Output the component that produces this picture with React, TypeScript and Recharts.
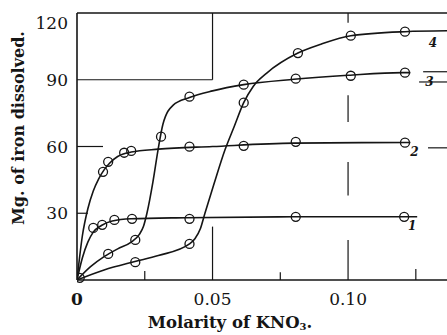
import React from 'react';
import { ComposedChart, Line, Scatter, XAxis, YAxis, ReferenceLine } from 'recharts';

// ---- data ----
const xTicks = [0, 0.05, 0.1];
const xTickLabels = ['0', '0.05', '0.10'];
const yTicks = [30, 60, 90, 120];

// smooth curves
const curve1X = [0, 0.002, 0.004, 0.006, 0.009, 0.013, 0.02, 0.04, 0.08, 0.1255];
const curve1Y = [0, 10, 17, 21.5, 24.5, 26.5, 27.5, 28, 28.4, 28.4];
const curve2X = [0, 0.002, 0.004, 0.006, 0.008, 0.01, 0.012, 0.015, 0.02, 0.03, 0.05, 0.08, 0.123];
const curve2Y = [0, 20, 32, 40, 45.5, 49.5, 52.5, 55.5, 57.5, 58.8, 60, 61.5, 61.8];
const curve3X = [0, 0.005, 0.01, 0.015, 0.02, 0.023, 0.0245, 0.0258, 0.028, 0.0299, 0.0317, 0.0354, 0.0415, 0.05, 0.0615, 0.08, 0.1, 0.12, 0.123];
const curve3Y = [0, 6, 10.5, 14, 17, 20.5, 24, 30, 44, 58.5, 70, 78.5, 82, 85, 87.8, 90.2, 92, 93.2, 93.2];
const curve4X = [0, 0.01, 0.021, 0.03, 0.0415, 0.0435, 0.0455, 0.0472, 0.0505, 0.0546, 0.058, 0.0615, 0.065, 0.07, 0.0815, 0.09, 0.101, 0.121, 0.1365];
const curve4Y = [0, 4.5, 8.2, 11, 16.2, 18.5, 23, 30, 43, 58.5, 69, 79.7, 87, 93, 102, 106, 109.8, 111.6, 112];

// measured points (open circles)
const pts1X = [0.001, 0.006, 0.0093, 0.0138, 0.0203, 0.0415, 0.0807, 0.1207];
const pts1Y = [1, 23.4, 24.8, 27, 27.5, 27.5, 28.4, 28.4];
const pts2X = [0.0096, 0.0115, 0.0174, 0.02, 0.0415, 0.0615, 0.0807, 0.121];
const pts2Y = [48.6, 53.1, 57.2, 58, 59.9, 60.3, 62.1, 61.7];
const pts3X = [0.0115, 0.0215, 0.031, 0.0415, 0.0615, 0.0807, 0.101, 0.121];
const pts3Y = [11.7, 18, 64.4, 82.4, 87.8, 90.5, 91.8, 93.2];
const pts4X = [0.0215, 0.0415, 0.0615, 0.0815, 0.101, 0.121];
const pts4Y = [8, 16.2, 79.7, 102, 109.8, 111.6];

const zip = (xs: number[], ys: number[]) => xs.map((x, i) => ({ x, y: ys[i] }));

const curves = [
  { name: '1', data: zip(curve1X, curve1Y), dx: -5, dy: 13 },
  { name: '2', data: zip(curve2X, curve2Y), dx: 4, dy: 14 },
  { name: '3', data: zip(curve3X, curve3Y), dx: 19, dy: 13 },
  { name: '4', data: zip(curve4X, curve4Y), dx: -14, dy: 16 },
];
const points = [zip(pts1X, pts1Y), zip(pts2X, pts2Y), zip(pts3X, pts3Y), zip(pts4X, pts4Y)];

const INK = '#151515';
const SERIF = '"DejaVu Serif", "Liberation Serif", serif';

const XTick = (props: any) => {
  const { x, y, payload } = props;
  const i = xTicks.indexOf(payload.value);
  const label = i >= 0 ? xTickLabels[i] : '';
  return (
    <text x={x} y={y + 25} textAnchor="middle" fontFamily={SERIF} fontSize={17}
      fontWeight={payload.value === 0 ? 'bold' : 'normal'} fill={INK}>{label}</text>
  );
};

const YTick = (props: any) => {
  const { x, y, payload } = props;
  return (
    <text x={x - 9} y={y + 6 + (payload.value === 120 ? 10 : 0)} textAnchor="end"
      fontFamily={SERIF} fontSize={17} fill={INK}>{payload.value}</text>
  );
};

const circleShape = (props: any) => (
  <circle cx={props.cx} cy={props.cy} r={4.5} fill="none" stroke={INK} strokeWidth={1.3} />
);

const seg = (x1: number, y1: number, x2: number, y2: number, w = 1.2) => (
  <ReferenceLine key={`${x1}-${y1}-${x2}-${y2}`} segment={[{ x: x1, y: y1 }, { x: x2, y: y2 }]}
    stroke={INK} strokeWidth={w} ifOverflow="visible" />
);

export default function App() {
  return (
    <div style={{ position: 'absolute', left: 0, top: 0, width: 447, height: 335, background: '#fff' }}>
      <ComposedChart width={447} height={335} margin={{ top: 13, right: 0, bottom: 0, left: 0 }}>
        <XAxis type="number" dataKey="x" domain={[0, 0.1365]} ticks={xTicks} tick={<XTick />}
          tickLine={false} tickSize={0} tickMargin={0} height={55} interval={0}
          axisLine={{ stroke: INK, strokeWidth: 1.6 }} allowDataOverflow />
        <YAxis type="number" dataKey="y" domain={[0, 120]} ticks={yTicks} tick={<YTick />}
          tickLine={false} tickSize={0} tickMargin={0} width={77} interval={0}
          axisLine={{ stroke: INK, strokeWidth: 1.6 }} />
        <ReferenceLine y={120} stroke={INK} strokeWidth={1.5} />
        {seg(0, 90, 0.05, 90)}
        {seg(0.05, 90, 0.05, 120)}
        {seg(0.05, 0, 0.05, 24)}
        {seg(0.1, 0, 0.1, 18)}
        {seg(0.1, 38, 0.1, 53)}
        {seg(0.1, 71, 0.1, 83)}
        {seg(0.1, 115.6, 0.1, 120)}
        {seg(0, 60, 0.0096, 60)}
        {seg(0, 30, 0.004, 30)}
        {seg(0.025, 0, 0.025, 4)}
        {seg(0.075, 0, 0.075, 3.5)}
        {seg(0.125, 0, 0.125, 5)}
        {seg(0.1295, 59.4, 0.1365, 59.4)}
        {seg(0.1262, 89, 0.1365, 89)}
        {seg(0.1277, 93.6, 0.1365, 93.6)}
        {curves.map((c) => (
          <Line key={c.name} data={c.data} dataKey="y" type="monotone" dot={false}
            stroke={INK} strokeWidth={1.6} isAnimationActive={false}
            label={(p: any) => p.index === c.data.length - 1 ? (
              <text key={`l${c.name}`} x={p.x + c.dx} y={p.y + c.dy} textAnchor="middle"
                fontFamily={SERIF} fontSize={12} fontStyle="italic" fontWeight="bold" fill={INK}>{c.name}</text>
            ) : <g key={`g${p.index}`} />} />
        ))}
        {points.map((d, i) => (
          <Scatter key={`s${i}`} data={d} dataKey="y" shape={circleShape} isAnimationActive={false} />
        ))}
      </ComposedChart>
      <svg width={447} height={335} style={{ position: 'absolute', left: 0, top: 0, pointerEvents: 'none' }}>
        <text x={18} y={128} transform="rotate(-90 18 128)" textAnchor="middle" dominantBaseline="central"
          fontFamily={SERIF} fontSize={16} fontWeight="bold" fill={INK}>Mg. of iron dissolved.</text>
        <text x={230} y={328} textAnchor="middle" fontFamily={SERIF} fontSize={16.5} fontWeight="bold" fill={INK}>
          Molarity of KNO<tspan fontSize={10} dy={2}>3</tspan><tspan dy={-2}>.</tspan>
        </text>
      </svg>
    </div>
  );
}
